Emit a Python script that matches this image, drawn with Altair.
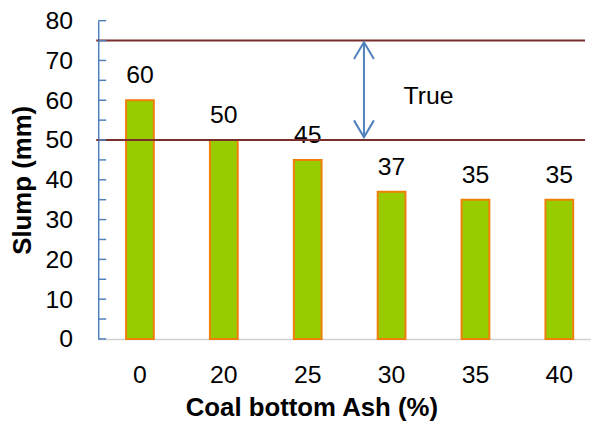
import altair as alt
import pandas as pd

# ---- data ----
categories = ["0", "20", "25", "30", "35", "40"]
slump = [60, 50, 45, 37, 35, 35]
limit_lines = [50, 75]
y_label_values = [0, 10, 20, 30, 40, 50, 60, 70, 80]
inner_tick_values = [0, 5, 10, 15, 20, 25, 30, 35, 40, 45, 50, 55, 60, 65, 70, 75, 80]
arrow_top = [74.6]
arrow_bottom = [50.7]
note_text = ["True"]
note_y = [61]

FONT = "Liberation Sans"
BAR_FILL = "#99CC00"
BAR_STROKE = "#F07F09"
LIMIT_COLOR = "#7A2E2C"
AXIS_BLUE = "#4F81BD"
ARROW_BLUE = "#4F81BD"

bars_df = pd.DataFrame({"ash": categories, "slump": slump})
limits_df = pd.DataFrame({"limit": limit_lines})
ticks_df = pd.DataFrame({"t": inner_tick_values})
arrow_df = pd.DataFrame({"top": arrow_top, "bottom": arrow_bottom})
note_df = pd.DataFrame({"label": note_text, "y": note_y})

y_scale = alt.Scale(domain=[0, 80], nice=False, zero=True)

x_enc = alt.X(
    "ash:N",
    sort=categories,
    scale=alt.Scale(paddingInner=0.669, paddingOuter=0.272, align=0.61),
    axis=alt.Axis(
        title="Coal bottom Ash (%)",
        labelAngle=0,
        ticks=False,
        domainColor="#D0D0D0",
        domainWidth=1.5,
        labelFontSize=25,
        labelPadding=24,
        labelColor="#000000",
        labelFont=FONT,
        titleFont=FONT,
        titleFontSize=26,
        titleFontWeight="bold",
        titleColor="#000000",
        titleX=215,
        titlePadding=7,
    ),
)

y_enc = alt.Y(
    "slump:Q",
    scale=y_scale,
    axis=alt.Axis(
        title="Slump (mm)",
        values=y_label_values,
        ticks=False,
        grid=False,
        domainColor=AXIS_BLUE,
        domainWidth=1.5,
        labelFontSize=25,
        labelPadding=26,
        labelColor="#000000",
        labelFont=FONT,
        titleFont=FONT,
        titleFontSize=26,
        titleFontWeight="bold",
        titleColor="#000000",
        titlePadding=9,
    ),
)

bars = alt.Chart(bars_df).mark_bar(
    color=BAR_FILL, stroke=BAR_STROKE, strokeWidth=2
).encode(x=x_enc, y=y_enc)

values = alt.Chart(bars_df).mark_text(
    font=FONT, fontSize=25, color="#000000", dy=-17, baseline="alphabetic"
).encode(x=alt.X("ash:N", sort=categories), y=alt.Y("slump:Q", scale=y_scale), text="slump:Q")

limits = alt.Chart(limits_df).mark_rule(color=LIMIT_COLOR, strokeWidth=2).encode(
    y=alt.Y("limit:Q", scale=y_scale),
    x=alt.value(-2),
    x2=alt.value(491),
)

inner_ticks = alt.Chart(ticks_df).mark_rule(color=AXIS_BLUE, strokeWidth=1.5).encode(
    y=alt.Y("t:Q", scale=y_scale),
    x=alt.value(0),
    x2=alt.value(8),
)

arrow_shaft = alt.Chart(arrow_df).mark_rule(color=ARROW_BLUE, strokeWidth=2).encode(
    y=alt.Y("top:Q", scale=y_scale),
    y2="bottom:Q",
    x=alt.value(268),
)

arrow_head_top = alt.Chart(arrow_df).mark_point(
    shape="M-0.59,1L0,0L0.59,1", size=1156, filled=False, color=ARROW_BLUE,
    strokeWidth=2, opacity=1,
).encode(y=alt.Y("top:Q", scale=y_scale), x=alt.value(268))

arrow_head_bottom = alt.Chart(arrow_df).mark_point(
    shape="M-0.59,-1L0,0L0.59,-1", size=1156, filled=False, color=ARROW_BLUE,
    strokeWidth=2, opacity=1,
).encode(y=alt.Y("bottom:Q", scale=y_scale), x=alt.value(268))

note = alt.Chart(note_df).mark_text(
    font=FONT, fontSize=25, color="#000000", align="left", baseline="middle"
).encode(y=alt.Y("y:Q", scale=y_scale), x=alt.value(308), text="label:N")

chart = alt.layer(
    bars, values, limits, inner_ticks, arrow_shaft, arrow_head_top, arrow_head_bottom, note
).properties(
    width=497,
    height=321,
    autosize=alt.AutoSizeParams(type="none"),
    padding={"left": 91, "top": 11, "right": 0, "bottom": 82},
    background="#FFFFFF",
).configure_view(stroke=None).configure_text(font=FONT)

chart.save("out.html", embed_options={"renderer": "svg", "actions": False})
